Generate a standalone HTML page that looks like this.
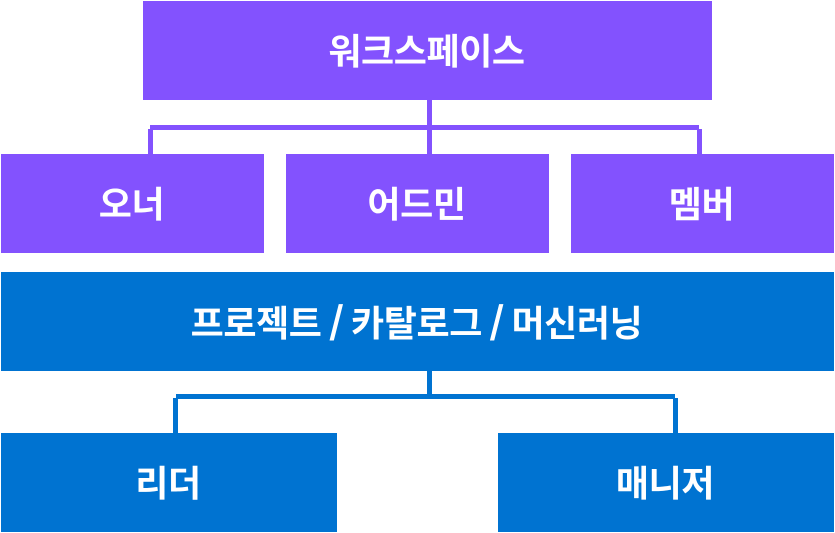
<!DOCTYPE html>
<html lang="ko">
<head>
<meta charset="utf-8">
<style>
html,body{margin:0;padding:0;background:#fff;}
body{width:835px;height:533px;overflow:hidden;position:relative;font-family:"Liberation Sans","Noto Sans CJK KR",sans-serif;}
.b{position:absolute;display:flex;align-items:center;justify-content:center;color:#fff;font-weight:700;font-size:36px;letter-spacing:-0.4px;white-space:pre;line-height:1;}
.b span{position:relative;left:-1px;top:1px;}
.b i{font-style:normal;font-family:"Noto Sans CJK KR",sans-serif;word-spacing:-1.75px;-webkit-text-stroke:0.7px #fff;}
.p{background:#8352fe;}
.u{background:#0073d1;}
.l{position:absolute;}
</style>
</head>
<body>
<div class="l p" style="left:427px;top:100px;width:5px;height:54px;"></div>
<div class="l p" style="left:150px;top:125px;width:549px;height:5px;"></div>
<div class="l p" style="left:148px;top:129px;width:5px;height:25px;"></div>
<div class="l p" style="left:697px;top:129px;width:5px;height:25px;"></div>

<div class="l u" style="left:427px;top:371px;width:5px;height:26px;"></div>
<div class="l u" style="left:176px;top:394px;width:499px;height:5px;"></div>
<div class="l u" style="left:173px;top:398px;width:5px;height:35px;"></div>
<div class="l u" style="left:673px;top:398px;width:5px;height:35px;"></div>

<div class="b p" style="left:143px;top:1px;width:569px;height:99px;"><span>워크스페이스</span></div>
<div class="b p" style="left:1px;top:154px;width:263px;height:99px;"><span>오너</span></div>
<div class="b p" style="left:286px;top:154px;width:263px;height:99px;"><span>어드민</span></div>
<div class="b p" style="left:571px;top:154px;width:263px;height:99px;"><span>멤버</span></div>
<div class="b u" style="left:1px;top:272px;width:833px;height:99px;"><span>프로젝트<i> / </i>카탈로그<i> / </i>머신러닝</span></div>
<div class="b u" style="left:1px;top:433px;width:336px;height:99px;"><span>리더</span></div>
<div class="b u" style="left:498px;top:433px;width:336px;height:99px;"><span>매니저</span></div>
</body>
</html>
